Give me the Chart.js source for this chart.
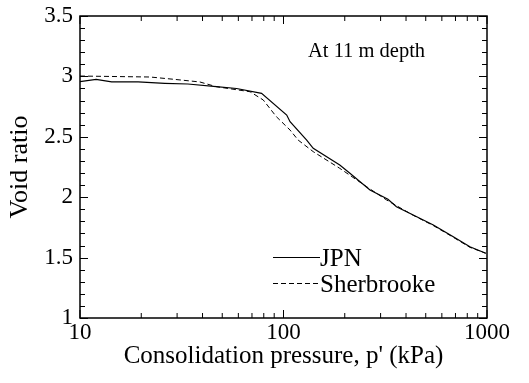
<!DOCTYPE html>
<html>
<head>
<meta charset="utf-8">
<script src="https://cdn.jsdelivr.net/npm/chart.js@4"></script>
<style>
  body { margin: 0; background: #fff; }
  canvas { display: block; }
</style>
</head>
<body>
<canvas id="myChart" width="529" height="383"></canvas>
<script>
// data
const jpnPressure = [10, 12, 14.3, 19.3, 26.1, 33.9, 46.7, 58.8, 78, 103.7, 107.7, 130, 140, 189, 212, 266, 326, 359, 434, 545, 683, 824, 986];
const jpnVoid = [2.957, 2.976, 2.954, 2.954, 2.943, 2.937, 2.915, 2.90, 2.86, 2.68, 2.625, 2.473, 2.405, 2.267, 2.198, 2.06, 1.983, 1.921, 1.853, 1.77, 1.673, 1.59, 1.536];

const sherPressure = [10, 22.1, 29.3, 38.8, 46.7, 68.5, 79.5, 92.3, 107.7, 118, 140, 189, 256, 321, 434, 545, 683, 824, 986];
const sherVoid = [3.003, 2.995, 2.975, 2.954, 2.915, 2.873, 2.805, 2.666, 2.556, 2.473, 2.377, 2.239, 2.087, 1.977, 1.85, 1.765, 1.668, 1.585, 1.536];

const xTickLabels = [10, 100, 1000];
const yMin = 1;
const yMax = 3.5;

const serif = "'Liberation Serif', 'Times New Roman', serif";

const toPoints = (xs, ys) => xs.map((x, i) => ({ x: x, y: ys[i] }));

// frame, inward ticks, legend and note
const framePlugin = {
  id: 'frame',
  afterDraw(chart) {
    const { ctx, chartArea: a, scales: { x, y } } = chart;
    ctx.save();
    ctx.strokeStyle = '#000';
    ctx.lineWidth = 1.5;
    ctx.strokeRect(a.left, a.top, a.right - a.left, a.bottom - a.top);

    ctx.lineWidth = 1;
    ctx.beginPath();
    // x ticks on a log axis: 10..1000
    for (let d = 10; d < 1000; d *= 10) {
      for (let m = 1; m <= 10; m++) {
        const px = x.getPixelForValue(d * m);
        const len = (m === 1 || m === 10) ? 8 : 5;
        ctx.moveTo(px, a.bottom);
        ctx.lineTo(px, a.bottom - len);
        ctx.moveTo(px, a.top);
        ctx.lineTo(px, a.top + len);
      }
    }
    // y ticks every 0.1, longer every 0.5
    for (let i = 0; i <= 25; i++) {
      const v = yMin + i * 0.1;
      const py = Math.round(y.getPixelForValue(v)) + 0.5;
      const len = (i % 5 === 0) ? 8 : 5;
      ctx.moveTo(a.left, py);
      ctx.lineTo(a.left + len, py);
      ctx.moveTo(a.right, py);
      ctx.lineTo(a.right - len, py);
    }
    ctx.stroke();

    // legend
    const lx = a.left + 193;
    const items = chart.data.datasets;
    ctx.font = '25px ' + serif;
    ctx.fillStyle = '#000';
    ctx.textBaseline = 'middle';
    items.forEach((ds, i) => {
      const ly = 257 + i * 26;
      ctx.beginPath();
      ctx.lineWidth = 1;
      ctx.setLineDash(ds.borderDash || []);
      ctx.moveTo(lx, ly + 0.5);
      ctx.lineTo(lx + 47, ly + 0.5);
      ctx.stroke();
      ctx.setLineDash([]);
      ctx.fillText(ds.label, lx + 47, ly + 2);
    });

    // note
    ctx.font = '20.5px ' + serif;
    ctx.fillText('At 11 m depth', a.left + 228, 52);
    ctx.restore();
  }
};

const ctx = document.getElementById('myChart');

new Chart(ctx, {
  type: 'line',
  data: {
    datasets: [
      {
        label: 'JPN',
        data: toPoints(jpnPressure, jpnVoid),
        borderColor: '#000',
        borderWidth: 1.2,
        pointRadius: 0,
        tension: 0,
        fill: false,
      },
      {
        label: 'Sherbrooke',
        data: toPoints(sherPressure, sherVoid),
        borderColor: '#000',
        borderWidth: 1,
        borderDash: [5, 3],
        pointRadius: 0,
        tension: 0,
        fill: false,
      }
    ]
  },
  options: {
    responsive: false,
    animation: false,
    devicePixelRatio: 1,
    layout: {
      padding: { top: 16, right: 42, left: 0, bottom: 0 }
    },
    plugins: {
      legend: { display: false },
      tooltip: { enabled: false }
    },
    scales: {
      x: {
        type: 'logarithmic',
        min: 10,
        max: 1000,
        afterBuildTicks(scale) {
          scale.ticks = xTickLabels.map((v) => ({ value: v }));
        },
        afterFit(scale) {
          scale.height = 65;
          scale.paddingLeft = 0;
          scale.paddingRight = 0;
        },
        ticks: {
          color: '#000',
          font: { family: serif, size: 23 },
          padding: 1,
          maxRotation: 0,
          autoSkip: false,
          callback: (v) => String(v),
        },
        grid: { display: false, drawTicks: false },
        border: { display: false },
        title: {
          display: true,
          text: "Consolidation pressure, p' (kPa)",
          color: '#000',
          font: { family: serif, size: 25 },
          padding: { top: 0, bottom: 12 },
        }
      },
      y: {
        min: yMin,
        max: yMax,
        afterFit(scale) {
          scale.width = 80;
          scale.paddingTop = 0;
          scale.paddingBottom = 0;
        },
        ticks: {
          stepSize: 0.5,
          color: '#000',
          font: { family: serif, size: 23 },
          padding: 7,
          callback: (v) => String(v),
        },
        grid: { display: false, drawTicks: false },
        border: { display: false },
        title: {
          display: true,
          text: 'Void ratio',
          color: '#000',
          font: { family: serif, size: 26 },
          padding: { top: 5, bottom: 0 },
        }
      }
    }
  },
  plugins: [framePlugin]
});
</script>
</body>
</html>
